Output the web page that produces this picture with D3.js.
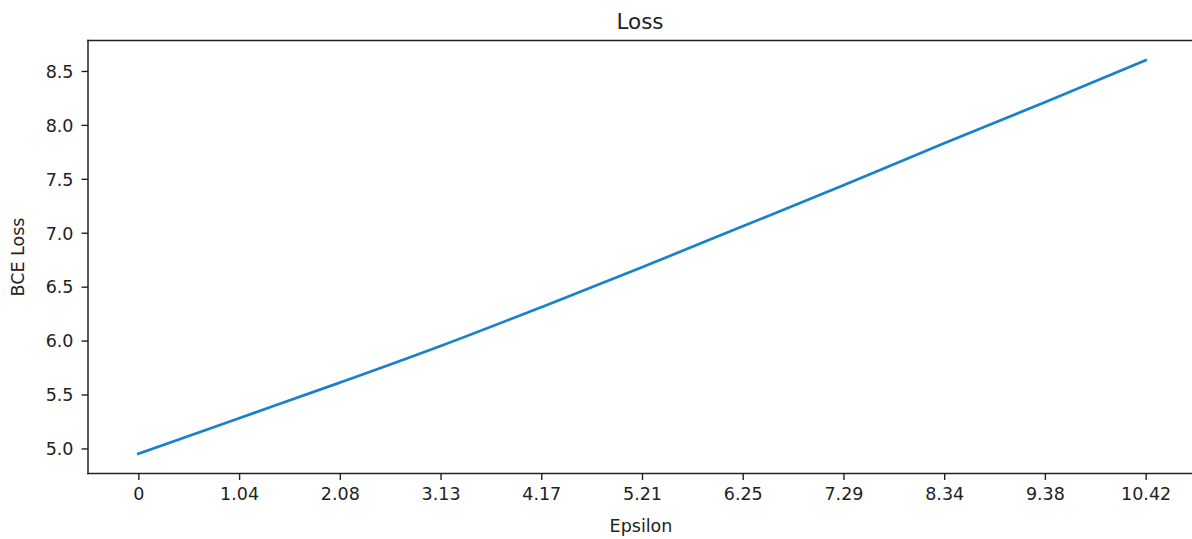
<!DOCTYPE html>
<html>
<head>
<meta charset="utf-8">
<script src="https://cdn.jsdelivr.net/npm/d3@7"></script>
<style>
  html, body { margin: 0; padding: 0; background: #fff; }
  svg { display: block; }
  text { font-family: "DejaVu Sans", sans-serif; fill: #222; }
</style>
</head>
<body>
<svg id="chart" width="1192" height="539"></svg>
<script>
// ---- data ----
const epsilon = [0, 1.042, 2.084, 3.126, 4.168, 5.21, 6.252, 7.294, 8.336, 9.378, 10.42];
const bceLoss = [4.95, 5.28, 5.61, 5.95, 6.31, 6.68, 7.06, 7.44, 7.83, 8.21, 8.60];
const xTickValues = [0, 1.042, 2.084, 3.126, 4.168, 5.21, 6.252, 7.294, 8.336, 9.378, 10.42];
const xTickLabels = ["0", "1.04", "2.08", "3.13", "4.17", "5.21", "6.25", "7.29", "8.34", "9.38", "10.42"];
const yTickValues = [5.0, 5.5, 6.0, 6.5, 7.0, 7.5, 8.0, 8.5];
const titleText = "Loss";
const xLabel = "Epsilon";
const yLabel = "BCE Loss";

// ---- layout ----
const L = 88, R = 1196, T = 40.5, B = 473.5;
const svg = d3.select("#chart");

const xMin = d3.min(epsilon), xMax = d3.max(epsilon), xr = xMax - xMin;
const yMin = d3.min(bceLoss), yMax = d3.max(bceLoss), yr = yMax - yMin;
const x = d3.scaleLinear().domain([xMin - 0.05 * xr, xMax + 0.05 * xr]).range([L, R]);
const y = d3.scaleLinear().domain([yMin - 0.05 * yr, yMax + 0.05 * yr]).range([B, T]);

// line
const line = d3.line().x((d, i) => x(epsilon[i])).y(d => y(d)).curve(d3.curveMonotoneX);
svg.append("path")
  .datum(bceLoss)
  .attr("d", line)
  .attr("fill", "none")
  .attr("stroke", "#1a80c8")
  .attr("stroke-width", 2.7)
  .attr("stroke-linecap", "square");

// axes
const xAxis = d3.axisBottom(x).tickValues(xTickValues)
  .tickFormat((d, i) => xTickLabels[i]).tickSize(6.5).tickPadding(8).tickSizeOuter(0);
const yAxis = d3.axisLeft(y).tickValues(yTickValues)
  .tickFormat(d3.format(".1f")).tickSize(6.5).tickPadding(8).tickSizeOuter(0);

const gx = svg.append("g").attr("transform", `translate(0,${B})`).call(xAxis);
const gy = svg.append("g").attr("transform", `translate(${L},0)`).call(yAxis);
[gx, gy].forEach(g => {
  g.select(".domain").remove();
  g.selectAll(".tick line").attr("stroke", "#222").attr("stroke-width", 1.4);
  g.selectAll(".tick text").attr("font-size", 17.5).attr("font-family", "DejaVu Sans").attr("fill", "#222");
});
gy.selectAll(".tick text").attr("dy", "0.36em");

// spines (right spine falls outside the picture)
const spines = [[L, T, R, T], [L, B, R, B], [L, T, L, B]];
svg.append("g").selectAll("line").data(spines).join("line")
  .attr("x1", d => d[0]).attr("y1", d => d[1])
  .attr("x2", d => d[2]).attr("y2", d => d[3])
  .attr("stroke", "#222").attr("stroke-width", 1.5).attr("stroke-linecap", "square");

// title & labels
svg.append("text").attr("x", (L + R) / 2 - 2).attr("y", 28.5)
  .attr("text-anchor", "middle").attr("font-size", 21.5).text(titleText);
svg.append("text").attr("x", 641).attr("y", 532)
  .attr("text-anchor", "middle").attr("font-size", 17.5).text(xLabel);
svg.append("text")
  .attr("transform", `translate(24,${(T + B) / 2}) rotate(-90)`)
  .attr("text-anchor", "middle").attr("font-size", 17.5).text(yLabel);
</script>
</body>
</html>
